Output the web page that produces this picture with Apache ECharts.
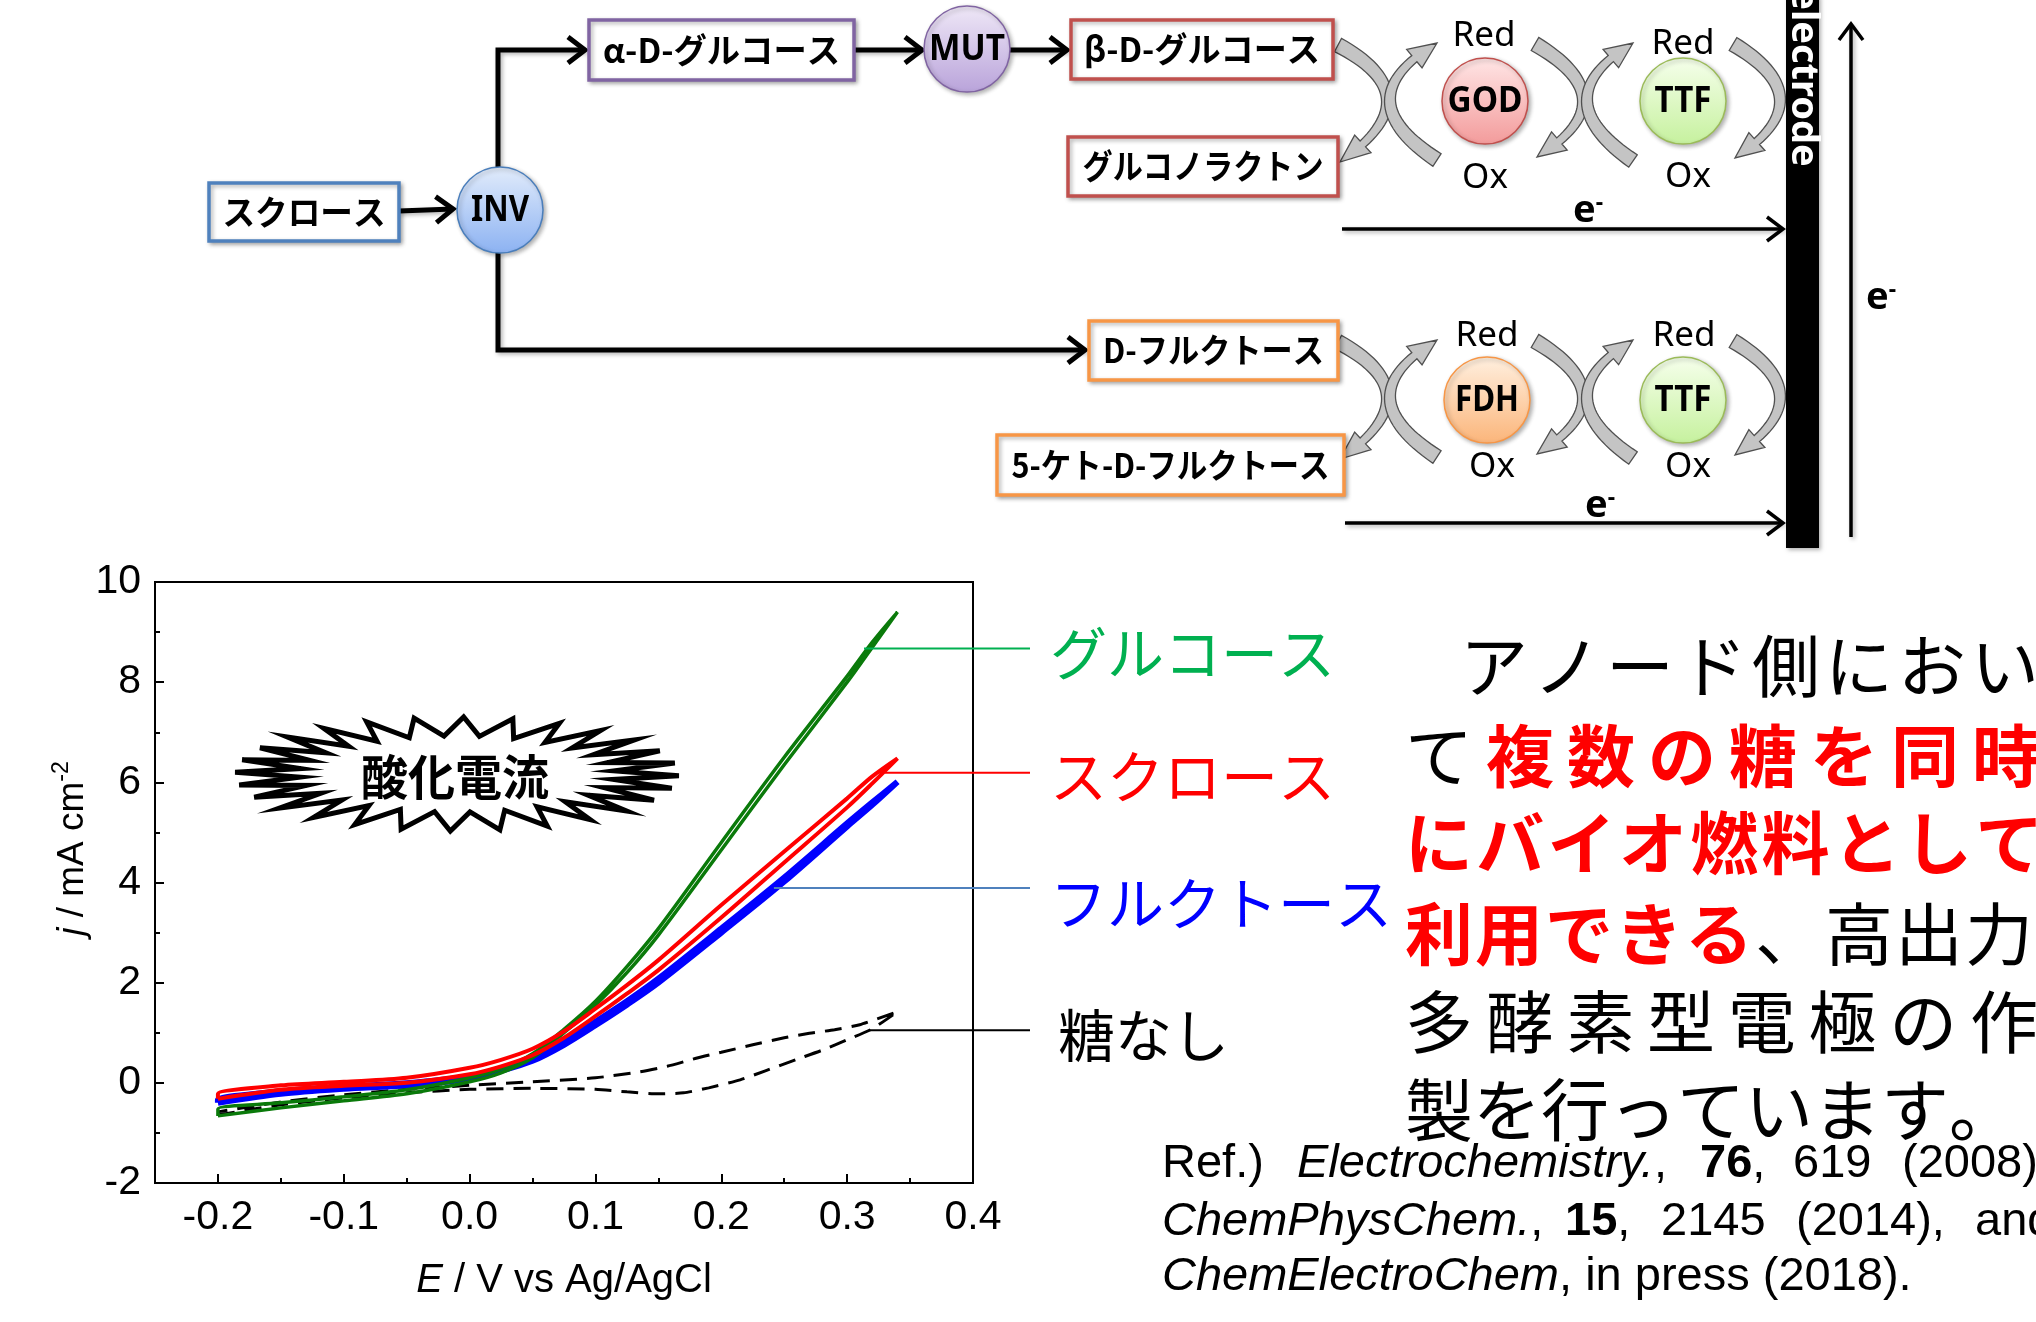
<!DOCTYPE html>
<html><head><meta charset="utf-8">
<script src="https://cdn.jsdelivr.net/npm/echarts@6/dist/echarts.min.js"></script>
<style>html,body{margin:0;padding:0;background:#fff;overflow:hidden}#main{width:2036px;height:1322px}</style>
</head><body><div id="main"></div>
<script>
// ---------------- DATA ----------------
const potential = [-0.2, -0.15, -0.1, -0.05, 0, 0.025, 0.05, 0.075, 0.1, 0.125, 0.15, 0.2, 0.25, 0.3, 0.32, 0.34];
const glucoseForward  = [-0.66, -0.5, -0.36, -0.22, 0.02, 0.2, 0.5, 1.0, 1.55, 2.2, 2.95, 4.65, 6.35, 8.0, 8.7, 9.4];
const glucoseReverse  = [-0.52, -0.4, -0.28, -0.14, 0.1, 0.28, 0.58, 1.07, 1.63, 2.32, 3.08, 4.8, 6.5, 8.12, 8.8, 9.4];
const sucroseForward  = [-0.32, -0.14, -0.06, 0.0, 0.17, 0.33, 0.55, 0.9, 1.33, 1.78, 2.25, 3.3, 4.4, 5.5, 5.98, 6.48];
const sucroseReverse  = [-0.22, -0.05, 0.02, 0.1, 0.3, 0.46, 0.68, 1.03, 1.48, 1.95, 2.45, 3.55, 4.62, 5.68, 6.12, 6.48];
const fructoseForward = [-0.4, -0.22, -0.12, -0.05, 0.08, 0.24, 0.44, 0.76, 1.15, 1.56, 2.0, 3.0, 4.02, 5.12, 5.55, 6.01];
const fructoseReverse = [-0.34, -0.17, -0.08, -0.01, 0.13, 0.29, 0.5, 0.83, 1.22, 1.63, 2.08, 3.08, 4.1, 5.18, 5.6, 6.01];
const blankForwardE = [-0.2, -0.15, -0.1, -0.05, 0.0, 0.05, 0.1, 0.125, 0.15, 0.17, 0.19, 0.215, 0.235, 0.26, 0.28, 0.3, 0.32, 0.34];
const blankForwardJ = [-0.64, -0.44, -0.3, -0.2, -0.13, -0.11, -0.13, -0.18, -0.22, -0.2, -0.1, 0.06, 0.24, 0.47, 0.65, 0.86, 1.08, 1.42];
const blankReverseE = [0.34, 0.31, 0.29, 0.27, 0.25, 0.225, 0.2, 0.18, 0.157, 0.135, 0.1, 0.05, 0.0, -0.05, -0.1, -0.15, -0.2];
const blankReverseJ = [1.42, 1.16, 1.06, 0.99, 0.9, 0.76, 0.61, 0.49, 0.33, 0.22, 0.1, 0.02, -0.05, -0.13, -0.24, -0.38, -0.58];
const xMajorTicks = [-0.2, -0.1, 0, 0.1, 0.2, 0.3, 0.4];
const xMinorTicks = [-0.15, -0.05, 0.05, 0.15, 0.25, 0.35];
const seriesNames = ['グルコース', 'スクロース', 'フルクトース', '糖なし'];
const labelAnchorE = [0.3134, 0.330, 0.2418, 0.3175];
const labelAnchorJ = [8.67, 6.19, 3.89, 1.05];

// ---------------- HELPERS ----------------
const FONT_JP = '"Noto Sans CJK JP", "Noto Sans", sans-serif';
const FONT_AR = '"Liberation Sans", Arial, sans-serif';
const FONT_LAT = '"Noto Sans", "Open Sans", sans-serif';

function loopData(E, fwd, rev) {
  const pts = E.map((e, i) => [e, fwd[i]]);
  for (let i = E.length - 2; i >= 0; i--) pts.push([E[i], rev[i]]);
  pts.push([E[0], fwd[0]]);
  return pts;
}
function pairData(E, J) { return E.map((e, i) => [e, J[i]]); }
const blankData = pairData(blankForwardE, blankForwardJ).concat(pairData(blankReverseE, blankReverseJ).slice(1));

const chart = echarts.init(document.getElementById('main'), null, {renderer: 'canvas', width: 2036, height: 1322});

chart.setOption({
  animation: false,
  backgroundColor: '#fff',
  grid: {left: 155, top: 582, width: 818, height: 601, show: true, borderColor: '#000', borderWidth: 2, backgroundColor: 'transparent'},
  xAxis: [{
    type: 'value', min: -0.25, max: 0.4, position: 'bottom',
    axisLine: {show: true, onZero: false, lineStyle: {color: '#000', width: 2}},
    axisTick: {show: true, inside: true, length: 9, lineStyle: {color: '#000', width: 2}, customValues: xMajorTicks},
    axisLabel: {customValues: xMajorTicks, formatter: v => v.toFixed(1), fontSize: 41, fontFamily: FONT_AR, color: '#000', margin: 14},
    splitLine: {show: false},
    name: '{i|E}{n| / V vs Ag/AgCl}', nameLocation: 'middle', nameGap: 76,
    nameTextStyle: {color: '#000', rich: {
      i: {fontStyle: 'italic', fontSize: 40, fontFamily: FONT_AR, color: '#000', lineHeight: 44},
      n: {fontSize: 40, fontFamily: FONT_AR, color: '#000', lineHeight: 44}}}
  }, {
    type: 'value', min: -0.25, max: 0.4, position: 'bottom',
    axisLine: {show: false, onZero: false}, axisLabel: {show: false}, splitLine: {show: false},
    axisTick: {show: true, inside: true, length: 5, lineStyle: {color: '#000', width: 2}, customValues: xMinorTicks}
  }],
  yAxis: {
    type: 'value', min: -2, max: 10, interval: 2,
    axisLine: {show: true, onZero: false, lineStyle: {color: '#000', width: 2}},
    axisTick: {show: true, inside: true, length: 9, lineStyle: {color: '#000', width: 2}},
    minorTick: {show: true, splitNumber: 2, length: 5, lineStyle: {color: '#000', width: 2}},
    axisLabel: {fontSize: 41, fontFamily: FONT_AR, color: '#000', margin: 14},
    splitLine: {show: false}, minorSplitLine: {show: false},
    name: '{i|j}{n| / mA cm}{s|-2}', nameLocation: 'middle', nameRotate: 90, nameGap: 52,
    nameTextStyle: {color: '#000', padding: [0, 0, 0, 68], rich: {
      i: {fontStyle: 'italic', fontSize: 37, fontFamily: FONT_AR, color: '#000', lineHeight: 46},
      n: {fontSize: 37, fontFamily: FONT_AR, color: '#000', lineHeight: 46},
      s: {fontSize: 23, fontFamily: FONT_AR, color: '#000', lineHeight: 46, verticalAlign: 'top'}}}
  },
  series: [
    {type: 'line', name: seriesNames[3], data: blankData, showSymbol: false, smooth: 0.2, xAxisIndex: 0,
     lineStyle: {color: '#000', width: 3, type: [17, 10]}},
    {type: 'line', name: seriesNames[2], data: loopData(potential, fructoseForward, fructoseReverse), showSymbol: false, smooth: 0.3, xAxisIndex: 0,
     lineStyle: {color: '#0000FF', width: 6}},
    {type: 'line', name: seriesNames[0], data: loopData(potential, glucoseForward, glucoseReverse), showSymbol: false, smooth: 0.3, xAxisIndex: 0,
     lineStyle: {color: '#0A7A0A', width: 3.5}},
    {type: 'line', name: seriesNames[1], data: loopData(potential, sucroseForward, sucroseReverse), showSymbol: false, smooth: 0.3, xAxisIndex: 0,
     lineStyle: {color: '#FF0000', width: 4}}
  ]
});

// ---------------- GRAPHICS (diagram + annotations) ----------------
const G = [];
function measure(str, style) {
  try { const t = new echarts.graphic.Text({style: Object.assign({text: str}, style)}); return t.getBoundingRect().width; }
  catch (e) { return null; }
}
function fitText(x, y, str, style, tw, z) {
  const w = tw ? measure(str, style) : null;
  const s = (w && tw) ? tw / w : 1;
  return {type: 'text', x: x, y: y, scaleX: s, z: z || 12, style: Object.assign({text: str, align: 'center', verticalAlign: 'middle'}, style)};
}
const SHADOW = {shadowBlur: 4, shadowOffsetX: 2, shadowOffsetY: 2, shadowColor: 'rgba(0,0,0,0.3)'};
function box(x, y, w, h, color, label, tw) {
  G.push({type: 'rect', z: 10, shape: {x: x, y: y, width: w, height: h}, style: Object.assign({fill: '#fff', stroke: color, lineWidth: 3.5}, SHADOW)});
  G.push(fitText(x + w / 2, y + h / 2, label, {fontSize: 34, fontWeight: 'bold', fontFamily: FONT_JP, fill: '#000'}, tw, 11));
}
function circle(cx, cy, r, c1, c2, stroke, label, tw) {
  G.push({type: 'ellipse', z: 10, shape: {cx: cx, cy: cy, rx: r, ry: r},
    style: Object.assign({fill: {type: 'linear', x: 0, y: 0, x2: 0, y2: 1, colorStops: [{offset: 0, color: c1}, {offset: 1, color: c2}]},
      stroke: stroke, lineWidth: 1.5}, SHADOW)});
  G.push(fitText(cx, cy + 1, label, {fontSize: 36, fontWeight: 'bold', fontFamily: FONT_LAT, fill: '#000'}, tw, 11));
}
function plain(x, y, str, size) {
  G.push({type: 'text', x: x, y: y, z: 12, style: {text: str, fontSize: size || 35, fontFamily: FONT_LAT, fill: '#000', align: 'center', verticalAlign: 'middle'}});
}
function arrow(points, width, headLen, headHalf) {
  G.push({type: 'polyline', z: 9, shape: {points: points}, style: Object.assign({stroke: '#000', lineWidth: width, fill: null, lineJoin: 'miter'}, SHADOW)});
  const n = points.length, tip = points[n - 1], prev = points[n - 2];
  const dx = tip[0] - prev[0], dy = tip[1] - prev[1], L = Math.hypot(dx, dy);
  const ux = dx / L, uy = dy / L, nx = -uy, ny = ux;
  G.push({type: 'polyline', z: 9, shape: {points: [
    [tip[0] - ux * headLen + nx * headHalf, tip[1] - uy * headLen + ny * headHalf], tip,
    [tip[0] - ux * headLen - nx * headHalf, tip[1] - uy * headLen - ny * headHalf]]},
    style: {stroke: '#000', lineWidth: width, fill: null, lineJoin: 'miter', lineCap: 'butt'}});
}
function eMinus(x, y, size) {
  G.push({type: 'text', x: x, y: y, z: 12, style: {text: '{e|e}{s|-}', align: 'center', verticalAlign: 'middle',
    rich: {e: {fontSize: size, fontWeight: 'bold', fontFamily: FONT_LAT, fill: '#000', lineHeight: size},
           s: {fontSize: Math.round(size * 0.6), fontWeight: 'bold', fontFamily: FONT_LAT, fill: '#000', lineHeight: size, verticalAlign: 'top'}}}});
}
// tapered curved block arrow (quadratic bezier p0 -> p2 through bulge)
function curvedArrow(p0, bulge, p2) {
  const c = [2 * bulge[0] - (p0[0] + p2[0]) / 2, 2 * bulge[1] - (p0[1] + p2[1]) / 2];
  const B = t => [(1 - t) * (1 - t) * p0[0] + 2 * (1 - t) * t * c[0] + t * t * p2[0], (1 - t) * (1 - t) * p0[1] + 2 * (1 - t) * t * c[1] + t * t * p2[1]];
  const D = t => [2 * (1 - t) * (c[0] - p0[0]) + 2 * t * (p2[0] - c[0]), 2 * (1 - t) * (c[1] - p0[1]) + 2 * t * (p2[1] - c[1])];
  const tH = 0.86, N = 30, left = [], right = [];
  for (let i = 0; i <= N; i++) {
    const t = tH * i / N, p = B(t), d = D(t), L = Math.hypot(d[0], d[1]);
    const nx = -d[1] / L, ny = d[0] / L, w = (15 - 7 * (i / N)) / 2;
    left.push([p[0] + nx * w, p[1] + ny * w]); right.push([p[0] - nx * w, p[1] - ny * w]);
  }
  const p = B(tH), d = D(tH), L = Math.hypot(d[0], d[1]), nx = -d[1] / L, ny = d[0] / L, hw = 12;
  const pts = left.concat([[p[0] + nx * hw, p[1] + ny * hw], p2, [p[0] - nx * hw, p[1] - ny * hw]]).concat(right.reverse());
  G.push({type: 'polygon', z: 9, shape: {points: pts}, style: {fill: '#C4C4C4', stroke: '#505050', lineWidth: 1.3, lineJoin: 'miter'}});
}

// boxes
box(209, 183, 190, 58, '#4F81BD', 'スクロース', 163);
box(589, 20, 265, 60, '#8064A2', 'α-D-グルコース', 237);
box(1071, 20, 262, 59, '#C0504D', 'β-D-グルコース', 236);
box(1068, 137, 270, 59, '#C0504D', 'グルコノラクトン', 241);
box(1089, 321, 249, 59, '#F79646', 'D-フルクトース', 221);
box(997, 435, 347, 60, '#F79646', '5-ケト-D-フルクトース', 318);

// arrows
arrow([[399, 211], [453, 209]], 5, 17, 13);
arrow([[498, 167], [498, 50], [585, 50]], 5, 17, 13);
arrow([[855, 50], [922, 50]], 5, 17, 13);
arrow([[1010, 50], [1067, 50]], 5, 17, 13);
arrow([[498, 252], [498, 350], [1085, 350]], 5, 17, 13);
arrow([[1342, 229], [1783, 229]], 3.5, 16, 12);
arrow([[1345, 523], [1783, 523]], 3.5, 16, 12);
arrow([[1851, 537], [1851, 24]], 3.5, 16, 12);

// circles
circle(500, 210, 43, '#E2ECFB', '#8CB2F2', '#4A7EBB', 'INV', 58);
circle(967, 49, 43, '#EFE8F7', '#B9A3DA', '#8064A2', 'MUT', 76);
circle(1485, 101, 43, '#FFE6E6', '#F39B9B', '#C0504D', 'GOD', 75);
circle(1683, 101, 43, '#F6FFEC', '#C6F19E', '#9BBB59', 'TTF', 57);
circle(1487, 400, 43, '#FFF0E0', '#FBB57A', '#F79646', 'FDH', 64);
circle(1683, 400, 43, '#F6FFEC', '#C6F19E', '#9BBB59', 'TTF', 57);

// Red / Ox labels
plain(1484, 36, 'Red'); plain(1485, 178, 'Ox');
plain(1683, 44, 'Red'); plain(1688, 177, 'Ox');
plain(1487, 336, 'Red'); plain(1492, 467, 'Ox');
plain(1684, 336, 'Red'); plain(1688, 467, 'Ox');

// curved cycle arrows (two rows)
[0, 297].forEach(dy => {
  curvedArrow([1338, 45 + dy], [1387, 100 + dy], [1340, 162 + dy]);
  curvedArrow([1437, 160 + dy], [1390, 100 + dy], [1437, 43 + dy]);
  curvedArrow([1535, 44 + dy], [1583, 100 + dy], [1537, 157 + dy]);
  curvedArrow([1633, 161 + dy], [1587, 100 + dy], [1633, 43 + dy]);
  curvedArrow([1733, 44 + dy], [1780, 100 + dy], [1735, 158 + dy]);
});

// electrode
G.push({type: 'rect', z: 10, shape: {x: 1786, y: -5, width: 33, height: 553}, style: Object.assign({fill: '#000'}, SHADOW)});
G.push({type: 'text', z: 11, x: 1803, y: 77, rotation: -Math.PI / 2,
  style: {text: 'electrode', fill: '#fff', fontSize: 38, fontWeight: 'bold', fontFamily: FONT_LAT, align: 'center', verticalAlign: 'middle'}});
eMinus(1588, 211, 38);
eMinus(1600, 506, 38);
eMinus(1881, 298, 38);

// starburst "酸化電流"
(function () {
  const cx = 457, cy = 774, N = 28, pts = [];
  for (let i = 0; i < 2 * N; i++) {
    const t = Math.PI * i / N + 0.03;
    const o = i % 2 === 0;
    pts.push([cx + (o ? 222 : 158) * Math.cos(t), cy + (o ? 57 : 38) * Math.sin(t)]);
  }
  G.push({type: 'polygon', z: 8, shape: {points: pts}, style: {fill: '#fff', stroke: '#000', lineWidth: 5, lineJoin: 'miter'}});
  G.push(fitText(455, 777, '酸化電流', {fontSize: 48, fontWeight: 'bold', fontFamily: FONT_JP, fill: '#000'}, 188, 9));
})();

// legend labels with leader lines (anchors converted through the chart's own axes)
const labelColors = ['#00B050', '#FF0000', '#0000FF', '#000000'];
const leaderColors = ['#00B050', '#FF0000', '#4F81BD', '#000000'];
const labelY = [653, 776, 903, 1035];
const labelX = [1050, 1050, 1050, 1058];
for (let k = 0; k < 4; k++) {
  const p = chart.convertToPixel({seriesIndex: 0}, [labelAnchorE[k], labelAnchorJ[k]]);
  G.push({type: 'line', z: 7, shape: {x1: p[0], y1: p[1], x2: 1030, y2: p[1]}, style: {stroke: leaderColors[k], lineWidth: 2}});
  G.push({type: 'text', z: 12, x: labelX[k], y: labelY[k], style: {text: seriesNames[k], fontSize: 57, fontFamily: FONT_JP, fill: labelColors[k], align: 'left', verticalAlign: 'middle'}});
}

// Japanese paragraph (placed per character, spacing as in the slide)
const RED = '#FF0000';
const paraLines = [
  {x: 1460, y: 666, step: 73,   parts: [['アノード側におい', '#000', 'normal']]},
  {x: 1405, y: 756, step: 81,   parts: [['て', '#000', 'normal'], ['複数の糖を同時', RED, 'bold']]},
  {x: 1405, y: 843, step: 71.3, parts: [['にバイオ燃料として', RED, 'bold']]},
  {x: 1405, y: 934, step: 70,   parts: [['利用できる', RED, 'bold'], ['、高出力', '#000', 'normal']]},
  {x: 1405, y: 1022, step: 80.7, parts: [['多酵素型電極の作', '#000', 'normal']]},
  {x: 1405, y: 1110, step: 68,  parts: [['製を行っています。', '#000', 'normal']]}
];
paraLines.forEach(line => {
  let i = 0;
  line.parts.forEach(part => {
    for (const ch of part[0]) {
      G.push({type: 'text', z: 12, x: line.x + line.step * i, y: line.y,
        style: {text: ch, fontSize: 68, fontWeight: part[2], fontFamily: FONT_JP, fill: part[1], align: 'left', verticalAlign: 'middle'}});
      i++;
    }
  });
});

// references
const refRich = {
  n: {fontSize: 47, fontFamily: FONT_AR, fill: '#000'},
  i: {fontSize: 47, fontFamily: FONT_AR, fontStyle: 'italic', fill: '#000'},
  b: {fontSize: 47, fontFamily: FONT_AR, fontWeight: 'bold', fill: '#000'}
};
const refWords = [
  [1162, 1164, '{n|Ref.)}'], [1297, 1164, '{i|Electrochemistry.}{n|,}'], [1700, 1164, '{b|76}{n|,}'], [1793, 1164, '{n|619}'], [1902, 1164, '{n|(2008),}'],
  [1162, 1222, '{i|ChemPhysChem.}{n|,}'], [1565, 1222, '{b|15}{n|,}'], [1661, 1222, '{n|2145}'], [1796, 1222, '{n|(2014),}'], [1975, 1222, '{n|and}'],
  [1162, 1277, '{i|ChemElectroChem}{n|, in press (2018).}']
];
refWords.forEach(w => G.push({type: 'text', z: 12, x: w[0], y: w[1], style: {text: w[2], rich: refRich, align: 'left', verticalAlign: 'middle'}}));

chart.setOption({graphic: {elements: G}});
</script></body></html>
